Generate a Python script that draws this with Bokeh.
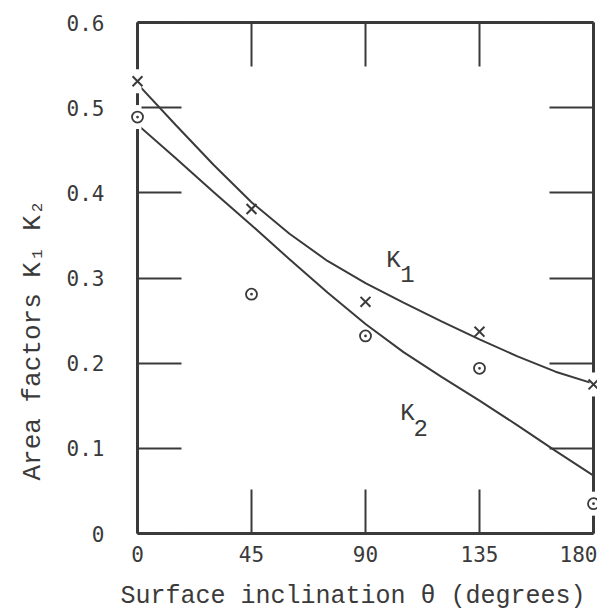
from bokeh.plotting import figure
from bokeh.models import Range1d, LinearAxis, FixedTicker, Label, Title
from bokeh.embed import file_html
from bokeh.resources import INLINE

# ---- data ----
theta_curve = [0, 15, 30, 45, 60, 75, 90, 105, 120, 135, 150, 165, 180]
k1_curve = [0.528, 0.480, 0.433, 0.389, 0.352, 0.320, 0.294, 0.271, 0.249,
            0.228, 0.208, 0.190, 0.176]
k2_curve = [0.480, 0.441, 0.401, 0.362, 0.322, 0.283, 0.246, 0.213, 0.184,
            0.156, 0.127, 0.097, 0.068]

theta_pts = [0, 45, 90, 135, 180]
k1_pts = [0.531, 0.381, 0.272, 0.237, 0.175]
k2_pts = [0.489, 0.281, 0.232, 0.194, 0.035]

x_ticks = [0, 45, 90, 135, 180]
x_tick_labels = ["0", "45", "90", "135", "180"]
y_ticks = [0, 0.1, 0.2, 0.3, 0.4, 0.5, 0.6]
y_tick_labels = ["0", "0.1", "0.2", "0.3", "0.4", "0.5", "0.6"]

x_title = "Surface inclination θ (degrees)"
y_title = "Area factors K₁ K₂"

INK = "#3a3a3a"
MONO = "Liberation Mono"
DIGITS = "DejaVu Sans Mono"

p = figure(frame_width=456, frame_height=511,
           x_range=Range1d(0, 180), y_range=Range1d(0, 0.6),
           output_backend="svg", toolbar_location=None,
           min_border_left=137, min_border_top=22, min_border_right=4,
           min_border_bottom=10,
           background_fill_color="white", border_fill_color="white")
p.outline_line_color = None
p.grid.visible = False

bottom_axis = p.below[0]
left_axis = p.left[0]
top_axis = LinearAxis()
right_axis = LinearAxis()
p.add_layout(top_axis, "above")
p.add_layout(right_axis, "right")

xaxes = [bottom_axis, top_axis]
yaxes = [left_axis, right_axis]

for ax in xaxes + yaxes:
    ax.axis_line_color = INK
    ax.axis_line_width = 3
    ax.major_tick_line_color = INK
    ax.major_tick_line_width = 2
    ax.major_tick_in = 44
    ax.major_tick_out = 0
    ax.minor_tick_in = 0
    ax.minor_tick_out = 0
    ax.minor_tick_line_color = None
for ax in xaxes:
    ax.ticker = FixedTicker(ticks=x_ticks)
for ax in yaxes:
    ax.ticker = FixedTicker(ticks=y_ticks)

# frame sides without numbers
for ax in (top_axis, right_axis):
    ax.major_label_text_color = None
    ax.major_label_text_font_size = "1px"
    ax.major_label_standoff = 0

bx = bottom_axis
bx.major_label_overrides = {t: s for t, s in zip(x_ticks, x_tick_labels)}
bx.major_label_text_font = DIGITS
bx.major_label_text_font_size = "21px"
bx.major_label_text_color = INK
bx.major_label_standoff = 12

ly = left_axis
ly.major_label_overrides = {t: s for t, s in zip(y_ticks, y_tick_labels)}
ly.major_label_text_font = DIGITS
ly.major_label_text_font_size = "21px"
ly.major_label_text_color = INK
ly.major_label_standoff = 33

xtitle = Title(text=x_title, align="left", offset=-17,
               text_font=MONO, text_font_size="25px", text_font_style="normal",
               text_color=INK, standoff=30)
p.add_layout(xtitle, "below")

ytitle = Title(text=y_title, align="left", offset=53,
               text_font=MONO, text_font_size="26px", text_font_style="normal",
               text_line_height=1.0, text_color=INK, standoff=31)
p.add_layout(ytitle, "left")

# curves
p.line(theta_curve, k1_curve, line_color=INK, line_width=2)
p.line(theta_curve, k2_curve, line_color=INK, line_width=2)

# breaks in the frame around the symbols that sit on it
edge_idx = [0, len(theta_pts) - 1]
gap_x = [theta_pts[i] for i in edge_idx] * 2
gap_y = [k1_pts[i] for i in edge_idx] + [k2_pts[i] for i in edge_idx]
p.rect(x=gap_x, y=gap_y, width=8, height=24, width_units="screen",
       height_units="screen", fill_color="white", line_color=None, level="overlay")

# data symbols
p.scatter(theta_pts, k1_pts, marker="x", size=14, line_width=2,
          line_color=INK, level="overlay")
p.scatter(theta_pts, k2_pts, marker="circle_dot", size=11, line_width=1.8,
          line_color=INK, fill_color=None, level="overlay")

# curve labels
for txt, x, y in [("K", 101, 0.321), ("1", 106.6, 0.305),
                  ("K", 106.6, 0.141), ("2", 111.8, 0.124)]:
    p.add_layout(Label(x=x, y=y, text=txt, text_font=MONO, text_font_size="24px",
                       text_color=INK, text_align="center",
                       text_baseline="middle"))

open("out.html", "w").write(file_html(p, INLINE))
